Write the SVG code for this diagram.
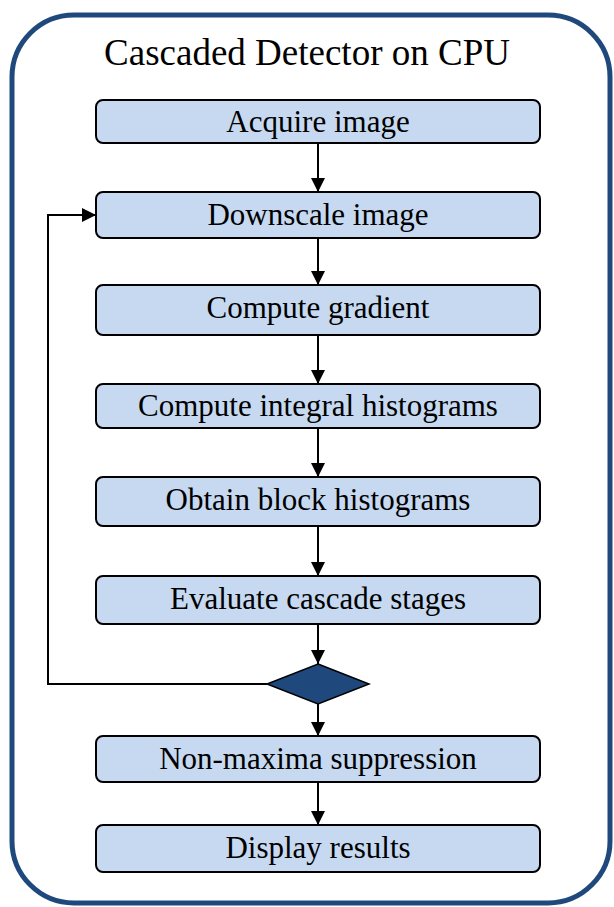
<svg xmlns="http://www.w3.org/2000/svg" width="614" height="907" viewBox="0 0 614 907">
<style>
.box{fill:#c6d9f0;stroke:#000;stroke-width:2}
.lbl{font-family:"Liberation Serif","Times New Roman",serif;font-size:31px;fill:#000;text-anchor:middle}
.ttl{font-family:"Liberation Serif","Times New Roman",serif;font-size:37px;fill:#000;text-anchor:middle}
.con{fill:none;stroke:#000;stroke-width:2}
</style>
<defs>
<marker id="ah" markerWidth="14" markerHeight="14" refX="14" refY="7" orient="auto" markerUnits="userSpaceOnUse">
<path d="M0,0 L14,7 L0,14 Z" fill="#000"/>
</marker>
</defs>
<rect width="614" height="907" fill="#fff"/>
<g id="container">
<rect x="12" y="15" width="598" height="888" rx="62" ry="62" fill="#fff" stroke="#1f497d" stroke-width="5"/>
<text class="ttl" x="307" y="65">Cascaded Detector on CPU</text>
</g>
<g id="n1"><rect class="box" x="96" y="100" width="444" height="43" rx="7"/><text class="lbl" x="318" y="132">Acquire image</text></g>
<g id="n2"><rect class="box" x="96" y="192" width="444" height="46" rx="7"/><text class="lbl" x="318" y="225">Downscale image</text></g>
<g id="n3"><rect class="box" x="96" y="285" width="444" height="50" rx="7"/><text class="lbl" x="318" y="318">Compute gradient</text></g>
<g id="n4"><rect class="box" x="96" y="384" width="444" height="44" rx="7"/><text class="lbl" x="318" y="416">Compute integral histograms</text></g>
<g id="n5"><rect class="box" x="96" y="477" width="444" height="49" rx="7"/><text class="lbl" x="318" y="510">Obtain block histograms</text></g>
<g id="n6"><rect class="box" x="96" y="576" width="444" height="48" rx="7"/><text class="lbl" x="318" y="609">Evaluate cascade stages</text></g>
<g id="n7"><polygon points="318,664 369,684 318,704 267,684" fill="#1f497d" stroke="#000" stroke-width="1.5"/></g>
<g id="n8"><rect class="box" x="96" y="736" width="444" height="46" rx="7"/><text class="lbl" x="318" y="769">Non-maxima suppression</text></g>
<g id="n9"><rect class="box" x="96" y="825" width="444" height="47" rx="7"/><text class="lbl" x="318" y="858">Display results</text></g>
<g id="connectors">
<line class="con" x1="318" y1="143" x2="318" y2="192" marker-end="url(#ah)"/>
<line class="con" x1="318" y1="238" x2="318" y2="285" marker-end="url(#ah)"/>
<line class="con" x1="318" y1="335" x2="318" y2="384" marker-end="url(#ah)"/>
<line class="con" x1="318" y1="428" x2="318" y2="477" marker-end="url(#ah)"/>
<line class="con" x1="318" y1="526" x2="318" y2="576" marker-end="url(#ah)"/>
<line class="con" x1="318" y1="624" x2="318" y2="664" marker-end="url(#ah)"/>
<line class="con" x1="318" y1="704" x2="318" y2="736" marker-end="url(#ah)"/>
<line class="con" x1="318" y1="782" x2="318" y2="825" marker-end="url(#ah)"/>
<polyline class="con" points="267,684 48,684 48,215 96,215" marker-end="url(#ah)"/>
</g>
</svg>
